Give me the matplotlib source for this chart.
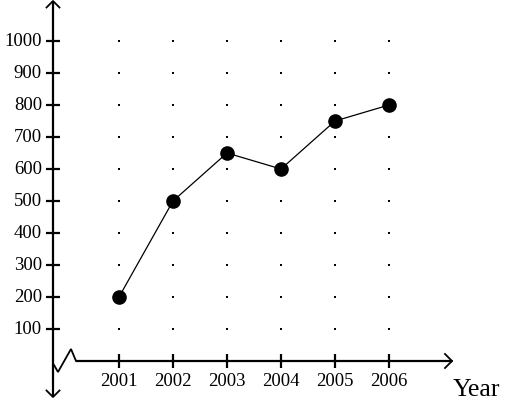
import matplotlib
matplotlib.use("Agg")
import matplotlib.pyplot as plt

years = [2001, 2002, 2003, 2004, 2005, 2006]
values = [200, 500, 650, 600, 750, 800]
y_ticks = [100, 200, 300, 400, 500, 600, 700, 800, 900, 1000]
x_label = "Year"

W, H = 514, 410
fig = plt.figure(figsize=(W / 100, H / 100), dpi=100)
ax = fig.add_axes([0, 0, 1, 1])
ax.set_axis_off()

# pixel mapping helpers (layout only)
X0PX, XSTEP = 119, 54      # pixel of first year, pixels per year
Y0PX, YSTEP = 362, 32      # pixel of value 0, pixels per 100
def px2x(px):
    return years[0] + (px - X0PX) / XSTEP
def py2y(py):
    return (Y0PX - py) / YSTEP * 100
dx = 1 / XSTEP
dy = 100 / YSTEP

ax.set_xlim(px2x(0), px2x(W))
ax.set_ylim(py2y(H), py2y(0))

ser = {'family': 'Liberation Serif'}
k = 'black'
lw_ax = 1.6

yaxis_x = px2x(53)
# vertical axis with arrowheads at both ends
ax.plot([yaxis_x, yaxis_x], [py2y(2), py2y(398)], color=k, lw=lw_ax, solid_capstyle='butt')
for apex, sgn in [(py2y(2), -1), (py2y(398), 1)]:
    ax.plot([yaxis_x - 6.5 * dx, yaxis_x, yaxis_x + 6.5 * dx],
            [apex + sgn * 6.5 * dy, apex, apex + sgn * 6.5 * dy],
            color=k, lw=1.3)

# horizontal axis with break zigzag
zx = [px2x(54), px2x(58), px2x(71), px2x(76), px2x(452)]
zy = [py2y(366), py2y(373), py2y(350), py2y(362), py2y(362)]
ax.plot(zx, zy, color=k, lw=1.3, solid_joinstyle='miter')
ax.plot([px2x(76), px2x(452)], [0, 0], color=k, lw=lw_ax, solid_capstyle='butt')
ax.plot([px2x(445), px2x(452), px2x(445)], [py2y(355), 0, py2y(369)], color=k, lw=1.3)

# tick marks and labels
for v in y_ticks:
    ax.plot([px2x(46), px2x(60)], [v, v], color=k, lw=lw_ax, solid_capstyle='butt')
    ax.text(px2x(42), v, str(v), ha='right', va='center', fontsize=13.5, color=k, **ser)
for yr in years:
    ax.plot([yr, yr], [py2y(355), py2y(369)], color=k, lw=lw_ax, solid_capstyle='butt')
    ax.text(yr, py2y(382), str(yr), ha='center', va='center', fontsize=13.5, color=k, **ser)

# dotted grid
gx = [yr for yr in years for v in y_ticks]
gy = [v for yr in years for v in y_ticks]
ax.plot(gx, gy, linestyle='none', marker='s', markersize=1.5, color=k, markeredgewidth=0)

# data line
ax.plot(years, values, color=k, lw=0.9, marker='o', markersize=9.5,
        markerfacecolor=k, markeredgecolor=k)

ax.text(px2x(453), py2y(396), x_label, ha='left', va='baseline', fontsize=18.5, color=k, **ser)

fig.savefig("out.png", dpi=100)
